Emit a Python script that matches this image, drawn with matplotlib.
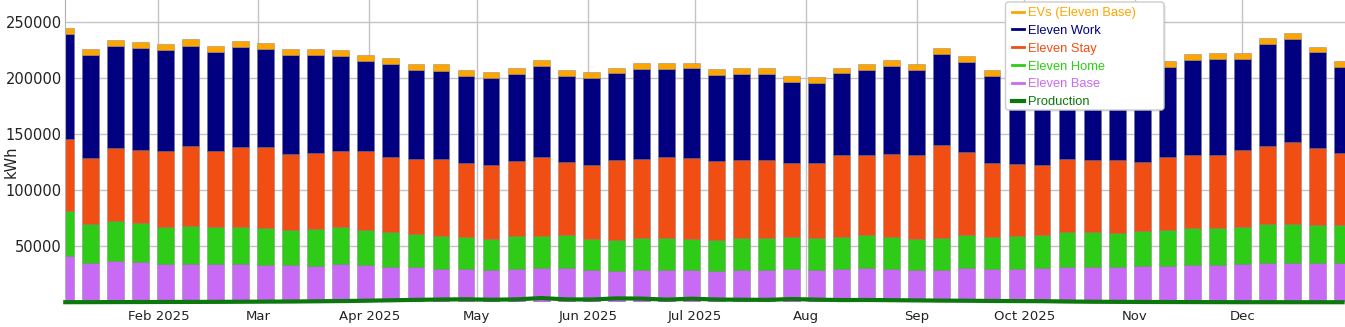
import matplotlib
matplotlib.use("Agg")
import matplotlib.pyplot as plt
import matplotlib.dates as mdates
from matplotlib.patches import FancyBboxPatch
from matplotlib.transforms import IdentityTransform
import pandas as pd

# weekly consumption (kWh), weeks starting Monday 2025-01-06
week_start = "2025-01-06"
n_weeks = 52

eleven_base = [41700, 35100, 36600, 36000, 34500, 34500, 34200, 34500, 33600, 33000, 32700, 34500, 33000, 31800, 31200, 29800,
	29800, 29200, 29800, 30400, 31000, 28900, 28300, 29200, 29200, 28900, 28000, 29200, 29200, 29800, 29200, 29500, 31000, 29800, 28900, 29200,
	30700, 29500, 30100, 30700, 31500, 31500, 31500, 32400, 32700, 33300, 33300, 34200, 35400, 35400, 35100, 35100]
eleven_home = [39900, 34800, 36000, 34800, 33000, 33900, 33000, 32700, 33000, 31800, 32400, 32700, 31800, 31200, 30100, 29500,
	28600, 27700, 29200, 29200, 29200, 27700, 27700, 28600, 28600, 27700, 27700, 28600, 28600, 28900, 28600, 28900, 28900, 28900, 27700, 28300,
	29200, 28600, 29500, 29500, 31200, 31200, 30400, 31200, 32100, 33000, 33000, 33000, 34800, 34800, 33900, 33900]
eleven_stay = [64000, 58900, 65200, 65500, 67600, 71100, 68200, 71400, 72000, 67300, 67900, 68200, 69900, 67000, 66700, 68500,
	65800, 65500, 67300, 70200, 65500, 66100, 70800, 70200, 71700, 72600, 70500, 69300, 69300, 65800, 66700, 73500, 71400, 74100, 75300, 83000,
	74700, 66400, 64000, 62500, 65200, 64300, 65500, 61900, 65200, 65200, 65200, 68500, 69600, 72600, 68800, 64600]
eleven_work = [94000, 92300, 91100, 90500, 90200, 89600, 88400, 89600, 87800, 88700, 88100, 84800, 80400, 83000, 79800, 79200,
	78000, 77700, 78000, 81300, 76800, 77400, 77700, 80100, 78900, 79800, 77100, 77100, 77100, 72600, 71400, 72600, 75900, 78000, 75600, 81500,
	80100, 77700, 78900, 78900, 79800, 80400, 80400, 81000, 80400, 84500, 86000, 81500, 91100, 92300, 85400, 76500]
evs = [5400, 5400, 5400, 5700, 5400, 5700, 5100, 5100, 5100, 5400, 5100, 5400, 5400, 5100, 5400, 6000,
	5400, 5700, 5100, 5400, 5100, 5700, 4800, 5700, 5400, 5100, 5100, 5100, 5100, 5100, 5400, 5100, 5700, 5400, 5400, 5400,
	5400, 5400, 5400, 5400, 5400, 5400, 5400, 5400, 5100, 5400, 5400, 5400, 5100, 5400, 5100, 5400]
production = [100, 150, 200, 250, 300, 350, 400, 500, 600, 700, 900, 1100, 1400, 1800, 2200, 2500,
	2700, 2300, 2600, 3800, 2600, 2500, 3500, 3300, 2400, 3200, 2500, 2300, 2200, 2900, 2400, 2000, 2100, 1900, 1700, 1500,
	1400, 1200, 1100, 1000, 700, 500, 400, 300, 250, 200, 150, 100, 100, 80, 80, 80]

month_ticks = ["2025-02-01", "2025-03-01", "2025-04-01", "2025-05-01", "2025-06-01", "2025-07-01",
	"2025-08-01", "2025-09-01", "2025-10-01", "2025-11-01", "2025-12-01"]
month_labels = ["Feb 2025", "Mar", "Apr 2025", "May", "Jun 2025", "Jul 2025", "Aug", "Sep", "Oct 2025", "Nov", "Dec"]
y_ticks = [50000, 100000, 150000, 200000, 250000]

colors = {
	"EVs (Eleven Base)": "#FFA500",
	"Eleven Work": "#000080",
	"Eleven Stay": "#F04E12",
	"Eleven Home": "#2ECC17",
	"Eleven Base": "#C86AF5",
	"Production": "#0A780A",
}

W, H = 1345, 327


def main():
	weeks = pd.date_range(week_start, periods=n_weeks, freq="7D")
	x = mdates.date2num(weeks)

	fig = plt.figure(figsize=(W / 100, H / 100), dpi=100)
	ax = fig.add_axes([0.04855, 0.0755, 0.9515, 0.9245])
	ax.set_axisbelow(True)

	edge = (0.45, 0.45, 0.45, 0.55)
	stack = [("Eleven Base", eleven_base), ("Eleven Home", eleven_home), ("Eleven Stay", eleven_stay),
		("Eleven Work", eleven_work), ("EVs (Eleven Base)", evs)]
	bottom = [0] * n_weeks
	handles = {}
	for name, vals in stack:
		ax.bar(x, vals, width=4.7, bottom=bottom, color=colors[name], edgecolor=edge, linewidth=0.5)
		bottom = [b + v for b, v in zip(bottom, vals)]
		handles[name], = ax.plot([], [], color=colors[name], lw=2)

	handles["Production"], = ax.plot(x, production, color=colors["Production"], lw=3, clip_on=False, zorder=5)

	ax.set_xlim(x[0], x[-1] + 0.7)
	ax.set_ylim(0, 270000)

	ax.set_xticks(mdates.date2num(pd.to_datetime(month_ticks)))
	ax.set_xticklabels(month_labels)
	ax.set_yticks(y_ticks)
	ax.set_yticklabels([str(v) for v in y_ticks])
	ax.tick_params(axis="x", length=0, pad=5.5, labelsize=9.5, colors="#222222")
	ax.tick_params(axis="y", length=0, pad=2.5, labelsize=10.5, colors="#222222")
	ax.grid(True, color="#c4c4c4", linewidth=1)

	for side in ["top", "right", "bottom"]:
		ax.spines[side].set_visible(False)
	ax.spines["left"].set_color("#b0b0b0")

	ax.set_ylabel("kWh", fontsize=10.5, color="#222222")
	ax.yaxis.set_label_coords(-0.0362, 0.464)

	# legend box drawn by hand so its size matches
	box_x0, box_y0, box_x1, box_y1 = 1005.5, 2, 1164, 110
	shadow = FancyBboxPatch((box_x0 + 1.5, H - box_y1 - 1.5), box_x1 - box_x0, box_y1 - box_y0,
		boxstyle="round,pad=0,rounding_size=3", transform=IdentityTransform(),
		facecolor="black", edgecolor="none", alpha=0.12, zorder=8, clip_on=False)
	frame = FancyBboxPatch((box_x0, H - box_y1), box_x1 - box_x0, box_y1 - box_y0,
		boxstyle="round,pad=0,rounding_size=3", transform=IdentityTransform(),
		facecolor="white", edgecolor="#cccccc", linewidth=1, zorder=9, clip_on=False)
	ax.add_patch(shadow)
	ax.add_patch(frame)

	order = ["EVs (Eleven Base)", "Eleven Work", "Eleven Stay", "Eleven Home", "Eleven Base", "Production"]
	leg = ax.legend([handles[k] for k in order], order, loc="upper left",
		bbox_to_anchor=(1012 / W, 1 - 7 / H), bbox_transform=fig.transFigure,
		borderaxespad=0, borderpad=0, frameon=False,
		handlelength=0.95, handletextpad=0.32, labelspacing=0.45,
		prop={"family": "Liberation Sans", "size": 9.3})
	leg.set_zorder(10)
	for text, name in zip(leg.get_texts(), order):
		text.set_color(colors[name])

	plt.savefig("out.png", dpi=100)


if __name__ == "__main__":
	main()
